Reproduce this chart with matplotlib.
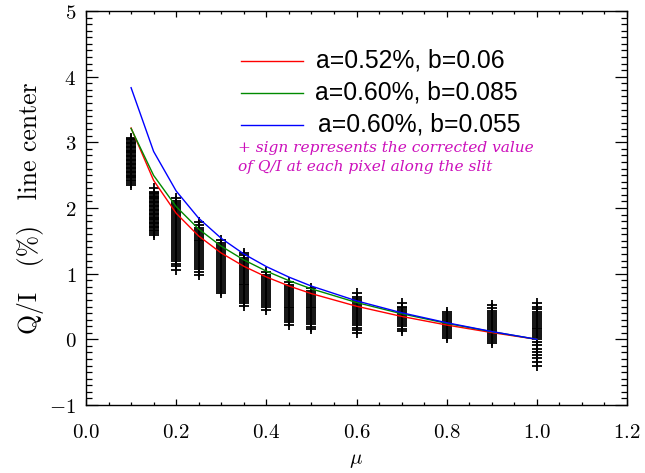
import matplotlib
matplotlib.use("Agg")
import matplotlib.pyplot as plt
from matplotlib.ticker import MultipleLocator, FuncFormatter

plt.rcParams['mathtext.fontset'] = 'cm'

# Model curves (vertices at the observed mu positions)
mu_curve = [0.10, 0.15, 0.20, 0.25, 0.30, 0.35, 0.40, 0.45, 0.50, 0.60, 0.70, 0.80, 0.90, 1.00]
red_vals = [3.218, 2.420, 1.920, 1.573, 1.314, 1.113, 0.950, 0.813, 0.696, 0.504, 0.349, 0.218, 0.103, 0.0]
green_vals = [3.211, 2.496, 2.021, 1.679, 1.418, 1.210, 1.039, 0.894, 0.769, 0.561, 0.390, 0.244, 0.116, 0.0]
blue_vals = [3.832, 2.861, 2.259, 1.844, 1.538, 1.300, 1.108, 0.948, 0.811, 0.586, 0.405, 0.253, 0.119, 0.0]
labels = ["a=0.52%, b=0.06", "a=0.60%, b=0.085", "a=0.60%, b=0.055"]

# Observed Q/I along the slit at each mu
c010 = [3.07, 3.05, 3.03, 3.01, 2.99, 2.97, 2.95, 2.93, 2.91, 2.89, 2.87, 2.85, 2.83, 2.81, 2.79, 2.77, 2.75, 2.73,
        2.71, 2.69, 2.67, 2.65, 2.63, 2.61, 2.59, 2.57, 2.55, 2.53, 2.51, 2.49, 2.47, 2.45, 2.43, 2.41, 2.38, 2.35]
c015 = [2.30, 2.25, 2.23, 2.21, 2.19, 2.17, 2.15, 2.13, 2.11, 2.09, 2.07, 2.05, 2.03, 2.01, 1.99, 1.97, 1.95, 1.93,
        1.91, 1.89, 1.87, 1.85, 1.83, 1.81, 1.79, 1.77, 1.75, 1.73, 1.71, 1.69, 1.67, 1.65, 1.62, 1.59]
c020 = [2.15, 2.10, 2.07, 2.04, 2.01, 1.98, 1.95, 1.92, 1.89, 1.86, 1.83, 1.80, 1.77, 1.74, 1.71, 1.68, 1.65, 1.62,
        1.59, 1.56, 1.53, 1.50, 1.47, 1.44, 1.41, 1.38, 1.35, 1.32, 1.29, 1.26, 1.23, 1.19, 1.15, 1.11, 1.06]
c025 = [1.78, 1.74, 1.70, 1.67, 1.64, 1.61, 1.58, 1.55, 1.52, 1.49, 1.46, 1.43, 1.40, 1.37, 1.34, 1.31, 1.28, 1.25,
        1.22, 1.19, 1.16, 1.13, 1.10, 1.07, 1.03, 0.98]
c030 = [1.52, 1.46, 1.43, 1.40, 1.37, 1.34, 1.31, 1.28, 1.25, 1.22, 1.19, 1.16, 1.13, 1.10, 1.07, 1.04, 1.01, 0.98,
        0.95, 0.92, 0.89, 0.86, 0.83, 0.80, 0.77, 0.74, 0.71]
c035 = [1.32, 1.28, 1.24, 1.21, 1.18, 1.15, 1.12, 1.09, 1.06, 1.03, 1.00, 0.97, 0.94, 0.91, 0.88, 0.85, 0.82, 0.79,
        0.76, 0.73, 0.70, 0.67, 0.64, 0.61, 0.58, 0.55, 0.51]
c040 = [1.03, 0.98, 0.95, 0.92, 0.89, 0.86, 0.83, 0.80, 0.77, 0.74, 0.71, 0.68, 0.65, 0.62, 0.59, 0.56, 0.53, 0.49, 0.45]
c045 = [0.88, 0.83, 0.80, 0.77, 0.74, 0.71, 0.68, 0.65, 0.62, 0.59, 0.56, 0.53, 0.50, 0.47, 0.44, 0.41, 0.38, 0.35,
        0.32, 0.29, 0.26, 0.22]
c050 = [0.78, 0.74, 0.71, 0.68, 0.65, 0.62, 0.59, 0.56, 0.53, 0.50, 0.47, 0.44, 0.41, 0.38, 0.35, 0.32, 0.29, 0.26,
        0.23, 0.19, 0.15]
c060 = [0.70, 0.64, 0.61, 0.58, 0.55, 0.52, 0.49, 0.46, 0.43, 0.40, 0.37, 0.34, 0.31, 0.28, 0.25, 0.22, 0.18, 0.14, 0.10]
c070 = [0.55, 0.50, 0.47, 0.44, 0.41, 0.38, 0.35, 0.32, 0.29, 0.26, 0.23, 0.20, 0.16, 0.12]
c080 = [0.42, 0.38, 0.35, 0.32, 0.29, 0.26, 0.23, 0.20, 0.17, 0.14, 0.11, 0.08, 0.05, 0.02]
c090 = [0.52, 0.47, 0.43, 0.40, 0.37, 0.34, 0.31, 0.28, 0.25, 0.22, 0.19, 0.16, 0.13, 0.10, 0.07, 0.04, 0.01, -0.03, -0.06]
c100 = [0.55, 0.50, 0.46, 0.42, 0.39, 0.36, 0.33, 0.30, 0.27, 0.24, 0.21, 0.18, 0.15, 0.12, 0.09, 0.06, 0.03, 0.00,
        -0.04, -0.09, -0.14, -0.19, -0.24, -0.29, -0.34, -0.40]
clusters = [c010, c015, c020, c025, c030, c035, c040, c045, c050, c060, c070, c080, c090, c100]

fig = plt.figure(figsize=(6.45, 4.73), dpi=100)
ax = fig.add_axes([86 / 645, 1 - 405 / 473, (627 - 86) / 645, (405 - 11) / 473])

for m, vals in zip(mu_curve, clusters):
    ax.plot([m] * len(vals), vals, linestyle='none', marker='+', markersize=7.5,
            markeredgewidth=1.3, color='black', zorder=2)

colors = ['#ff0000', '#008a00', '#0000ff']
for vals, col in zip([red_vals, green_vals, blue_vals], colors):
    ax.plot(mu_curve, vals, color=col, linewidth=1.0, zorder=3)

ax.set_xlim(0.0, 1.2)
ax.set_ylim(-1, 5)
ax.xaxis.set_major_locator(MultipleLocator(0.2))
ax.xaxis.set_minor_locator(MultipleLocator(0.05))
ax.yaxis.set_major_locator(MultipleLocator(1))
ax.yaxis.set_minor_locator(MultipleLocator(0.1))
ax.xaxis.set_major_formatter(FuncFormatter(lambda v, p: f"${v:.1f}$"))
ax.yaxis.set_major_formatter(FuncFormatter(lambda v, p: f"${int(round(v))}$"))
ax.tick_params(which='both', direction='in', top=True, right=True, labelsize=15, width=0.9)
ax.tick_params(axis='y', which='major', length=8.5, pad=7)
ax.tick_params(axis='y', which='minor', length=4.5)
ax.tick_params(axis='x', which='major', length=4, pad=12)
ax.tick_params(axis='x', which='minor', length=2.5)
for s in ax.spines.values():
    s.set_linewidth(1.0)

ax.set_xlabel(r"$\mu$", fontsize=15, labelpad=6)
ax.set_ylabel("Q/I   (%)   line center", fontsize=18.5, family='cmr10', labelpad=4)

# legend drawn in axes coordinates
leg_y = [0.874, 0.792, 0.711]
leg_tx = [0.425, 0.423, 0.429]
for col, lab, yy, tx in zip(colors, labels, leg_y, leg_tx):
    ax.plot([0.2865, 0.401], [yy, yy], color=col, linewidth=1.0, transform=ax.transAxes)
    ax.text(tx, yy, lab, transform=ax.transAxes, fontsize=17.8, family='Liberation Sans',
            va='center', ha='left')

ax.text(0.281, 0.652, "+ sign represents the corrected value", transform=ax.transAxes,
        fontsize=11.05, family='DejaVu Serif', style='italic', color='#cc10bb', va='center', ha='left')
ax.text(0.281, 0.604, "of Q/I at each pixel along the slit", transform=ax.transAxes,
        fontsize=11.05, family='DejaVu Serif', style='italic', color='#cc10bb', va='center', ha='left')

fig.savefig("out.png", dpi=100)
